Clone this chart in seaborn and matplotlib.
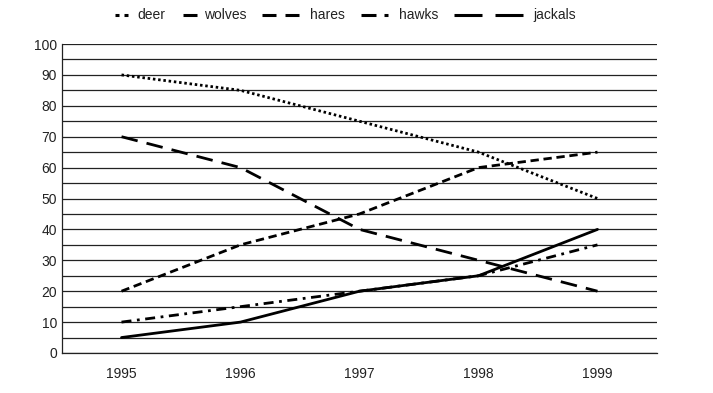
import numpy as np
import pandas as pd
import seaborn as sns
import matplotlib.pyplot as plt
from matplotlib.lines import Line2D

years = [1995, 1996, 1997, 1998, 1999]
deer = [90, 85, 75, 65, 50]
wolves = [20, 35, 45, 60, 65]
hares = [70, 60, 40, 30, 20]
hawks = [10, 15, 20, 25, 35]
jackals = [5, 10, 20, 25, 40]

series = {'deer': deer, 'wolves': wolves, 'hares': hares, 'hawks': hawks, 'jackals': jackals}
dash_map = {'deer': (0.9, 1.0), 'wolves': (3, 1.7), 'hares': (6, 3.3), 'hawks': (3.6, 2, 1, 2), 'jackals': ''}

sns.set_style('white')
plt.rcParams['font.family'] = ['Liberation Sans', 'DejaVu Sans']

W, H = 713, 393
fig = plt.figure(figsize=(W / 100, H / 100), dpi=100)
ax = fig.add_axes([62 / W, 1 - 353 / H, 595 / W, 309 / H])

for i in range(0, 101, 5):
    ax.axhline(i, color='#222222', linewidth=0.9, zorder=1)

df = pd.DataFrame({'year': np.tile(years, len(series)),
                   'value': np.concatenate([series[k] for k in series]),
                   'animal': np.repeat(list(series.keys()), len(years))})

sns.lineplot(data=df, x='year', y='value', hue='animal', style='animal',
             palette=['black'] * 5, dashes=dash_map, linewidth=2, ax=ax, legend=False, zorder=3)

ax.set_xlim(1994.5, 1999.5)
ax.set_ylim(0, 100)
ax.set_xticks(years)
ax.set_yticks(range(0, 101, 10))
ax.set_xlabel('')
ax.set_ylabel('')
ax.tick_params(labelsize=10, length=0, colors='#222222')
ax.tick_params(axis='x', pad=10)
for s in ['top', 'right']:
    ax.spines[s].set_visible(False)
for s in ['left', 'bottom']:
    ax.spines[s].set_color('#222222')
    ax.spines[s].set_linewidth(0.9)

# legend drawn by hand: (handle start px, handle end px, dash pattern in px, text x px)
legend_items = [('deer', 115, 128, (4, 5), 137),
                ('wolves', 183, 197, None, 204),
                ('hares', 262, 299, (14, 9), 310),
                ('hawks', 361, 388, (15, 8, 4, 0.01), 399),
                ('jackals', 454, 523, (28, 13), 533)]
ly = 1 - 15 / H
lw = 2.2
px_per_lw = lw * 100 / 72
for name, x0, x1, pat, tx in legend_items:
    ln = Line2D([x0 / W, x1 / W], [ly, ly], transform=fig.transFigure, color='black',
                linewidth=lw, solid_capstyle='butt', dash_capstyle='butt')
    if pat is not None:
        ln.set_dashes([p / px_per_lw for p in pat])
    fig.add_artist(ln)
    fig.text(tx / W, ly, name, fontsize=10, va='center', ha='left', color='#222222')

plt.savefig('out.png', dpi=100)
